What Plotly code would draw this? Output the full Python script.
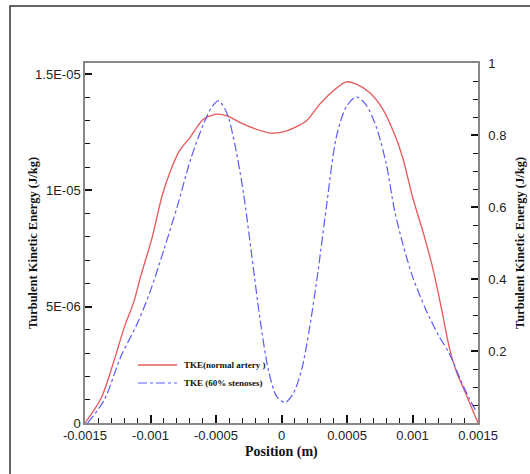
import plotly.graph_objects as go

# Normal artery TKE (left axis, J/kg)
x_normal = [-0.0015, -0.001378, -0.001277, -0.001201, -0.001125, -0.001075, -0.000986, -0.00091,
            -0.000847, -0.000784, -0.000695, -0.000594, -0.000492, -0.000416, -0.000315, -0.000214,
            -0.000087, 0.000014, 0.000103, 0.000191, 0.000292, 0.000394, 0.000495, 0.000571,
            0.000672, 0.000773, 0.000862, 0.000925, 0.001001, 0.001077, 0.001153, 0.001229,
            0.00128, 0.001331, 0.001406, 0.0015]
y_normal = [0.0, 1.05e-6, 2.7e-6, 4.1e-6, 5.25e-6, 6.3e-6, 8.0e-6, 9.8e-6,
            10.84e-6, 11.65e-6, 12.3e-6, 13.06e-6, 13.27e-6, 13.2e-6, 12.91e-6, 12.67e-6,
            12.46e-6, 12.51e-6, 12.7e-6, 12.99e-6, 13.7e-6, 14.27e-6, 14.66e-6, 14.56e-6,
            14.2e-6, 13.49e-6, 12.42e-6, 11.41e-6, 9.7e-6, 8.27e-6, 6.7e-6, 4.7e-6,
            3.27e-6, 2.27e-6, 1.27e-6, 0.0]

# 60% stenoses TKE (right axis, J/kg)
x_sten = [-0.00148, -0.001353, -0.001227, -0.0011, -0.000999, -0.000898, -0.000796, -0.000695,
          -0.000594, -0.00053, -0.00048, -0.000416, -0.000353, -0.00029, -0.000226, -0.000163,
          -0.0001, -0.000036, 0.000027, 0.00009, 0.000153, 0.000216, 0.00028, 0.000343,
          0.000419, 0.000495, 0.000571, 0.000647, 0.000723, 0.000799, 0.000862, 0.000925,
          0.001001, 0.001103, 0.001204, 0.00128, 0.001356, 0.001432, 0.00148]
y_sten = [0.0, 0.064, 0.184, 0.277, 0.369, 0.481, 0.601, 0.731,
          0.832, 0.879, 0.895, 0.86, 0.768, 0.638, 0.462, 0.286,
          0.147, 0.073, 0.057, 0.082, 0.147, 0.268, 0.425, 0.601,
          0.795, 0.879, 0.906, 0.883, 0.823, 0.721, 0.592, 0.499,
          0.406, 0.314, 0.24, 0.194, 0.129, 0.069, 0.036]

series_names = ["TKE(normal artery )", "TKE (60% stenoses)"]

x_ticks = [-0.0015, -0.001, -0.0005, 0, 0.0005, 0.001, 0.0015]
x_ticklabels = ["-0.0015", "-0.001", "-0.0005", "0", "0.0005", "0.001", "0.0015"]
y_ticks = [0, 5e-6, 1e-5, 1.5e-5]
y_ticklabels = ["0", "5E-06", "1E-05", "1.5E-05"]
y2_ticks = [0.2, 0.4, 0.6, 0.8, 1]
y2_ticklabels = ["0.2", "0.4", "0.6", "0.8", "1"]

red = "#e8575a"
blue = "#5b5bff"

fig = go.Figure()
fig.add_trace(go.Scatter(x=x_normal, y=y_normal, mode="lines", name=series_names[0], showlegend=False,
                         line=dict(color=red, width=1.3, shape="spline", smoothing=0.8)))
fig.add_trace(go.Scatter(x=x_sten, y=y_sten, mode="lines", name=series_names[1], yaxis="y2", showlegend=False,
                         line=dict(color=blue, width=1.2, dash="dashdot", shape="spline", smoothing=0.8)))

tickfont = dict(family="Liberation Sans, Arial", size=13, color="#222")
axcommon = dict(showgrid=False, zeroline=False, showline=True, linecolor="#888", linewidth=1.5,
                ticks="inside", tickcolor="#111", tickwidth=1.5, tickfont=tickfont)

serif = "Liberation Serif, Times New Roman"

# manual legend (paper coordinates)
px0, py0 = 85, 423
sx, sy = 393, 360
def ppx(v): return (v - px0) / sx
def ppy(v): return (py0 - v) / sy

legend_shapes = [
    dict(type="line", xref="paper", yref="paper", x0=ppx(138), x1=ppx(177), y0=ppy(365), y1=ppy(365),
         line=dict(color=red, width=1.3)),
    dict(type="line", xref="paper", yref="paper", x0=ppx(138), x1=ppx(177), y0=ppy(383), y1=ppy(383),
         line=dict(color=blue, width=1.2, dash="dashdot")),
]
legend_ann = [
    dict(text="<b>%s</b>" % series_names[0], xref="paper", yref="paper", x=ppx(182), y=ppy(365),
         xanchor="left", yanchor="middle", showarrow=False, font=dict(family=serif, size=9, color="#111")),
    dict(text="<b>%s</b>" % series_names[1], xref="paper", yref="paper", x=ppx(182), y=ppy(383),
         xanchor="left", yanchor="middle", showarrow=False, font=dict(family=serif, size=9, color="#111")),
]

fig.update_layout(
    width=530, height=474,
    margin=dict(l=85, r=52, t=63, b=51),
    paper_bgcolor="white", plot_bgcolor="white",
    xaxis=dict(range=[-0.0015, 0.0015], tickvals=x_ticks, ticktext=x_ticklabels, ticklen=8,
               mirror=True,
               minor=dict(dtick=0.0001, tick0=-0.0015, ticks="inside", ticklen=5, tickcolor="#111", tickwidth=1),
               **axcommon),
    yaxis=dict(range=[0, 1.547e-5], tickvals=y_ticks, ticktext=y_ticklabels, ticklen=7,
               minor=dict(dtick=1e-6, tick0=0, ticks="inside", ticklen=5, tickcolor="#111", tickwidth=1),
               **axcommon),
    yaxis2=dict(range=[0, 1], overlaying="y", side="right", tickvals=y2_ticks, ticktext=y2_ticklabels,
                ticklen=7,
                minor=dict(dtick=0.05, tick0=0, ticks="inside", ticklen=5, tickcolor="#111", tickwidth=1),
                ticklabelstandoff=6,
                **axcommon),
    showlegend=False,
    shapes=[dict(type="rect", xref="paper", yref="paper", x0=ppx(10), x1=2.0,
                 y0=-1.0, y1=ppy(6), line=dict(color="#333", width=1.5))] + legend_shapes,
    annotations=[
        dict(text="<b>Turbulent Kinetic Energy (J/kg)</b>", xref="paper", yref="paper",
             x=ppx(33), y=0.5, textangle=-90, showarrow=False, xanchor="center", yanchor="middle",
             font=dict(family=serif, size=12.5, color="#111")),
        dict(text="<b>Turbulent Kinetic Energy (J/kg)</b>", xref="paper", yref="paper",
             x=ppx(520), y=0.5, textangle=-90, showarrow=False, xanchor="center", yanchor="middle",
             font=dict(family=serif, size=12.5, color="#111")),
        dict(text="<b>Position (m)</b>", xref="paper", yref="paper",
             x=0.5, y=ppy(452), showarrow=False, xanchor="center", yanchor="middle",
             font=dict(family=serif, size=14, color="#111")),
    ] + legend_ann,
)

fig.write_html("out.html")
